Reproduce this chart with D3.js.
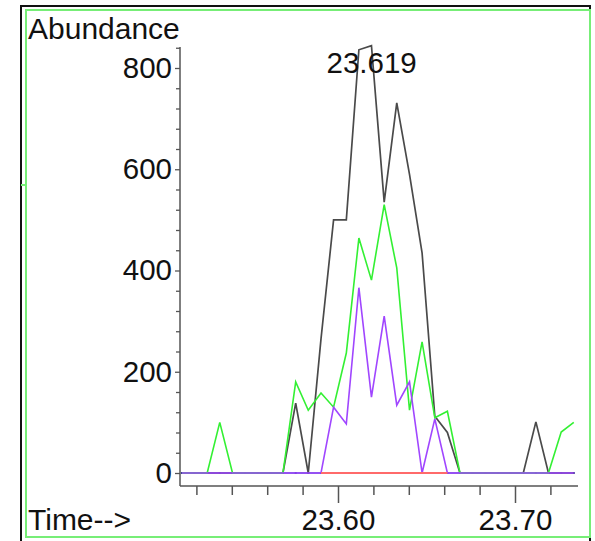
<!DOCTYPE html>
<html>
<head>
<meta charset="utf-8">
<script src="https://cdn.jsdelivr.net/npm/d3@7"></script>
<style>
  body { margin: 0; background: #fff; }
  svg { display: block; font-family: "Liberation Sans", Arial, sans-serif; }
</style>
</head>
<body>
<div id="canvas"></div>
<script>
// scan times (min)
var times = [23.5118, 23.5189, 23.5261, 23.5332, 23.5404, 23.5475, 23.5547, 23.5618,
             23.5689, 23.5761, 23.5832, 23.5904, 23.5975, 23.6047, 23.6118, 23.6189,
             23.6261, 23.6332, 23.6404, 23.6475, 23.6547, 23.6618, 23.6689, 23.6761,
             23.6832, 23.6904, 23.6975, 23.7047, 23.7118, 23.7189, 23.7261, 23.7332];

// ion traces
var blackIon  = [0,0,0,0,0,0,0,0, 0,138,0,265,500,500,836,844, 535,731,590,435,112,80,0,0, 0,0,0,0,101,0,0,0];
var greenIon  = [0,0,0,100,0,0,0,0, 0,180,124,158,130,237,464,381, 530,405,124,259,109,122,0,0, 0,0,0,0,0,0,81,100];
var purpleIon = [0,0,0,0,0,0,0,0, 0,0,0,0,130,97,366,150, 310,134,180,0,107,0,0,0, 0,0,0,0,0,0,0,0];
var redIon    = [null,null,null,null,null,null,null,null, null,null,null,0,0,0,0,0, 0,0,0,0,0,0,null,null,
                 null,null,null,null,null,null,null,null];
var blueIon   = [0,0,0,0,0,0,0,0, 0,0,0,0,0,0,0,0, 0,0,0,0,0,0,0,0, 0,0,0,0,0,0,0,0];

var yMajor = [0, 200, 400, 600, 800];
var yMinor = [40, 80, 120, 160, 240, 280, 320, 360, 440, 480, 520, 560, 640, 680, 720, 760, 840];
var xMajor = [23.60, 23.70];
var xMajorLabels = ["23.60", "23.70"];
var xMinor = [23.52, 23.54, 23.56, 23.58, 23.62, 23.64, 23.66, 23.68, 23.72];
var peakTime = 23.619, peakValue = 844, peakLabel = "23.619";

var W = 595, H = 541;
var svg = d3.select('#canvas').append('svg').attr('width', W).attr('height', H);

// frame
svg.append('rect').attr('x', 21).attr('y', 6).attr('width', 569).attr('height', 545)
  .attr('fill', 'none').attr('stroke', '#111').attr('stroke-width', 2);
svg.append('rect').attr('x', 26).attr('y', 10).attr('width', 564).attr('height', 527)
  .attr('fill', 'none').attr('stroke', '#77ee77').attr('stroke-width', 2);
svg.append('line').attr('x1', 21).attr('x2', 26).attr('y1', 185).attr('y2', 185)
  .attr('stroke', '#77ee77').attr('stroke-width', 2);

var x = d3.scaleLinear().domain([23.60, 23.70]).range([338, 515]);
var y = d3.scaleLinear().domain([0, 800]).range([473, 68]);
var xLeft = 180, xRight = 578, yAxisTop = 47, xAxisY = 486;

var axisColor = '#555';
var fontNum = 29.5, fontTitle = 30;

// y axis
svg.append('line').attr('x1', xLeft).attr('x2', xLeft).attr('y1', yAxisTop).attr('y2', xAxisY)
  .attr('stroke', axisColor).attr('stroke-width', 1.5);
var gy = svg.append('g').attr('transform', 'translate(' + xLeft + ',0)');
gy.call(d3.axisLeft(y).tickValues(yMinor).tickSize(4).tickFormat(''));
gy.append('g').call(d3.axisLeft(y).tickValues(yMajor).tickSize(5).tickPadding(3));
gy.selectAll('.domain').remove();
gy.selectAll('line').attr('stroke', axisColor).attr('stroke-width', 1.3);
gy.selectAll('text').attr('font-size', fontNum).attr('fill', '#111')
  .attr('font-family', '"Liberation Sans", Arial, sans-serif');

// x axis
svg.append('line').attr('x1', xLeft).attr('x2', xRight).attr('y1', xAxisY).attr('y2', xAxisY)
  .attr('stroke', axisColor).attr('stroke-width', 1.5);
var gx = svg.append('g').attr('transform', 'translate(0,' + xAxisY + ')');
gx.append('g').call(d3.axisBottom(x).tickValues(xMinor).tickSize(9).tickFormat(''));
gx.append('g').call(d3.axisBottom(x).tickValues(xMajor).tickSize(17).tickPadding(6)
  .tickFormat(function(d, i){ return xMajorLabels[i]; }));
gx.selectAll('.domain').remove();
gx.selectAll('line').attr('stroke', axisColor).attr('stroke-width', 1.5);
gx.selectAll('text').attr('font-size', fontNum).attr('fill', '#111')
  .attr('font-family', '"Liberation Sans", Arial, sans-serif');

// traces
function drawTrace(vals, color, width){
  var line = d3.line()
    .defined(function(d){ return d != null; })
    .x(function(d, i){ return x(times[i]); })
    .y(function(d){ return y(d); });
  svg.append('path').datum(vals).attr('d', line)
    .attr('fill', 'none').attr('stroke', color).attr('stroke-width', width)
    .attr('stroke-linejoin', 'miter');
}

drawTrace(blueIon, '#4848b8', 1.6);
svg.selectAll('.dot').data(blueIon).enter().append('rect')
  .attr('x', function(d, i){ return x(times[i]) - 1; })
  .attr('y', function(d){ return y(d) - 1; })
  .attr('width', 2).attr('height', 2).attr('fill', '#3a2aa0');
drawTrace(blackIon, '#4a4a4a', 1.7);
drawTrace(greenIon, '#33f033', 1.6);
drawTrace(purpleIon, '#a046ff', 1.6);
drawTrace(redIon, '#ff6a6a', 1.8);

// texts
svg.append('text').attr('x', 28).attr('y', 39).attr('font-size', fontTitle).attr('fill', '#111')
  .text('Abundance');
svg.append('text').attr('x', 28).attr('y', 530).attr('font-size', fontTitle).attr('fill', '#111')
  .text('Time-->');
svg.append('text').attr('x', x(peakTime)).attr('y', y(peakValue) + 27)
  .attr('text-anchor', 'middle').attr('font-size', fontNum).attr('fill', '#111')
  .text(peakLabel);
</script>
</body>
</html>
